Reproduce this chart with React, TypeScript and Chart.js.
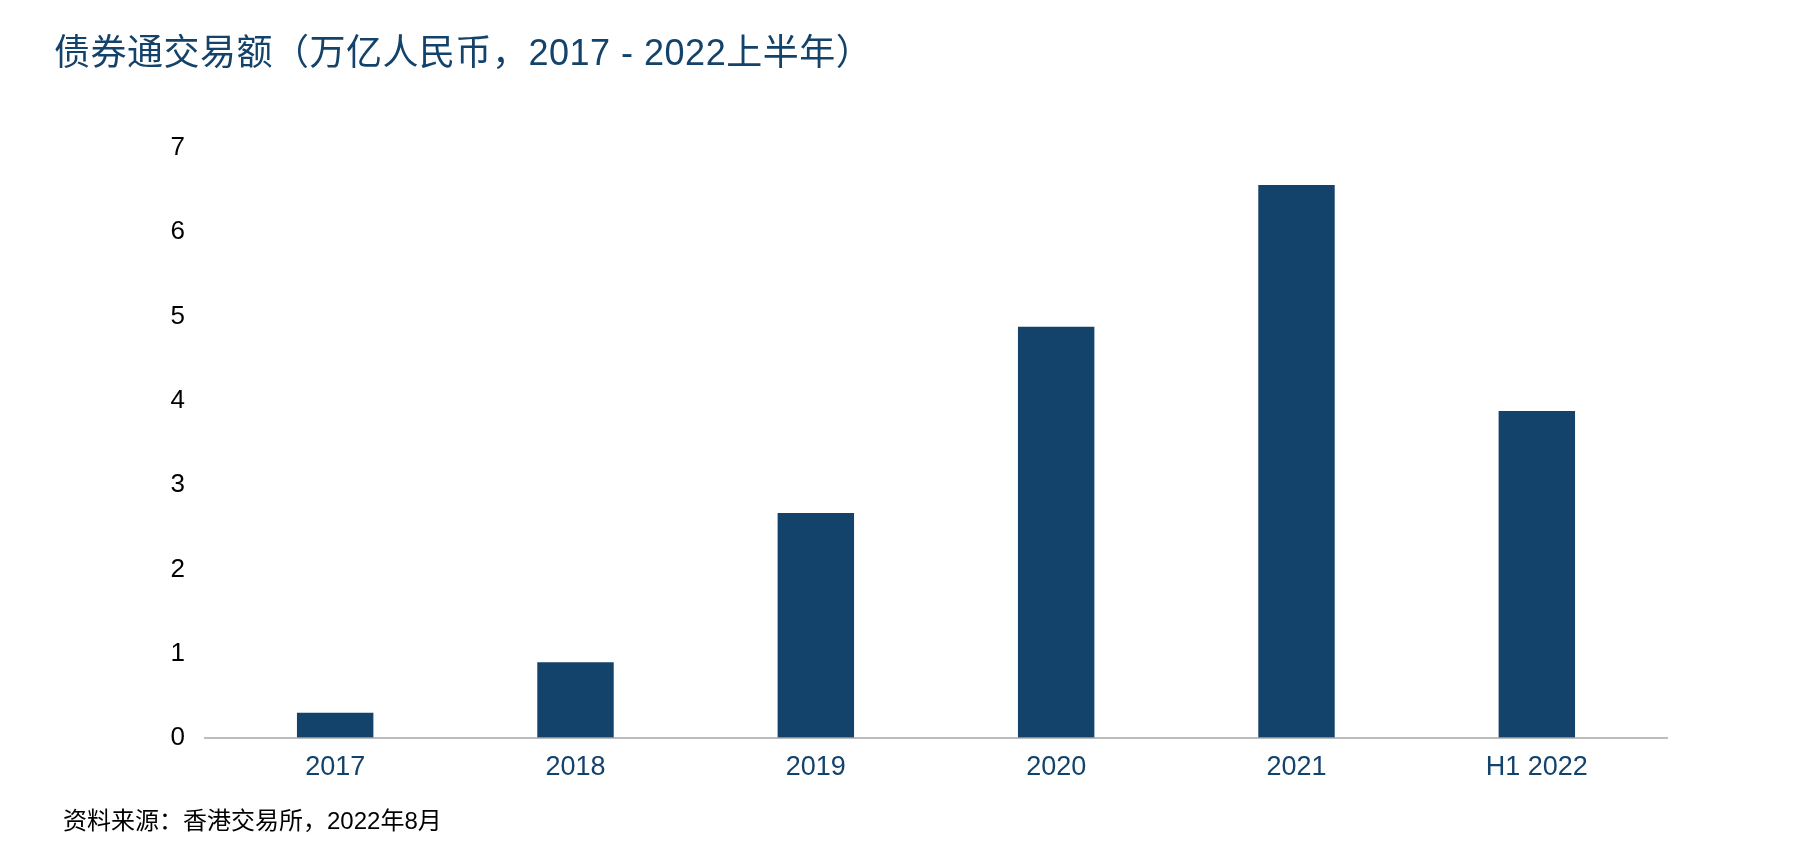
import React, { useEffect, useRef } from "react";
import { Chart, registerables } from "chart.js";

Chart.register(...registerables);

const categories = ["2017", "2018", "2019", "2020", "2021", "H1 2022"];
const turnover = [0.3, 0.9, 2.67, 4.88, 6.56, 3.88];
const yTicks = [0, 1, 2, 3, 4, 5, 6, 7];

const TITLE = "债券通交易额（万亿人民币，2017 - 2022上半年）";
const SOURCE = "资料来源：香港交易所，2022年8月";
const NAVY = "#13426B";
const FONT = '"Liberation Sans", Arial, "Noto Sans CJK SC", sans-serif';

const overlay = {
  id: "overlay",
  afterDraw(chart: any) {
    const { ctx, chartArea } = chart;
    ctx.save();
    // baseline
    ctx.strokeStyle = "#A6A6A6";
    ctx.lineWidth = 1.5;
    ctx.beginPath();
    const y0 = chart.scales.y.getPixelForValue(0);
    ctx.moveTo(chartArea.left - 11, y0);
    ctx.lineTo(chartArea.right + 11, y0);
    ctx.stroke();
    // title
    ctx.fillStyle = NAVY;
    ctx.font = "36px " + FONT;
    ctx.textAlign = "left";
    ctx.textBaseline = "middle";
    (ctx as any).letterSpacing = "0.5px";
    ctx.fillText(TITLE, 54, 55);
    (ctx as any).letterSpacing = "0px";
    // source
    ctx.fillStyle = "#000000";
    ctx.font = "24px " + FONT;
    ctx.fillText(SOURCE, 63, 822);
    ctx.restore();
  },
};

export default function App() {
  const ref = useRef<HTMLCanvasElement | null>(null);
  useEffect(() => {
    if (!ref.current) return;
    const chart = new Chart(ref.current, {
      type: "bar",
      data: {
        labels: categories,
        datasets: [
          {
            data: turnover,
            backgroundColor: NAVY,
            barPercentage: 0.318,
            categoryPercentage: 1,
          },
        ],
      },
      options: {
        animation: false,
        responsive: false,
        layout: { padding: { top: 148, right: 149, bottom: 0, left: 0 } },
        plugins: { legend: { display: false }, tooltip: { enabled: false } },
        scales: {
          x: {
            grid: { display: false, drawTicks: false },
            border: { display: false },
            ticks: {
              color: NAVY,
              font: { size: 27, family: FONT },
              padding: 13,
              maxRotation: 0,
            },
            afterFit(scale: any) {
              scale.height = 124;
            },
          },
          y: {
            min: 0,
            max: 7,
            grid: { display: false, drawTicks: false },
            border: { display: false },
            afterBuildTicks(scale: any) {
              scale.ticks = yTicks.map((v) => ({ value: v }));
            },
            ticks: {
              color: "#000000",
              font: { size: 26, family: FONT },
              padding: 30,
            },
            afterFit(scale: any) {
              scale.width = 215;
            },
          },
        },
      },
      plugins: [overlay],
    });
    return () => chart.destroy();
  }, []);
  return (
    <div style={{ position: "fixed", left: 0, top: 0, width: 1806, height: 862, background: "#fff" }}>
      <canvas ref={ref} width={1806} height={862} style={{ width: 1806, height: 862 }} />
    </div>
  );
}
